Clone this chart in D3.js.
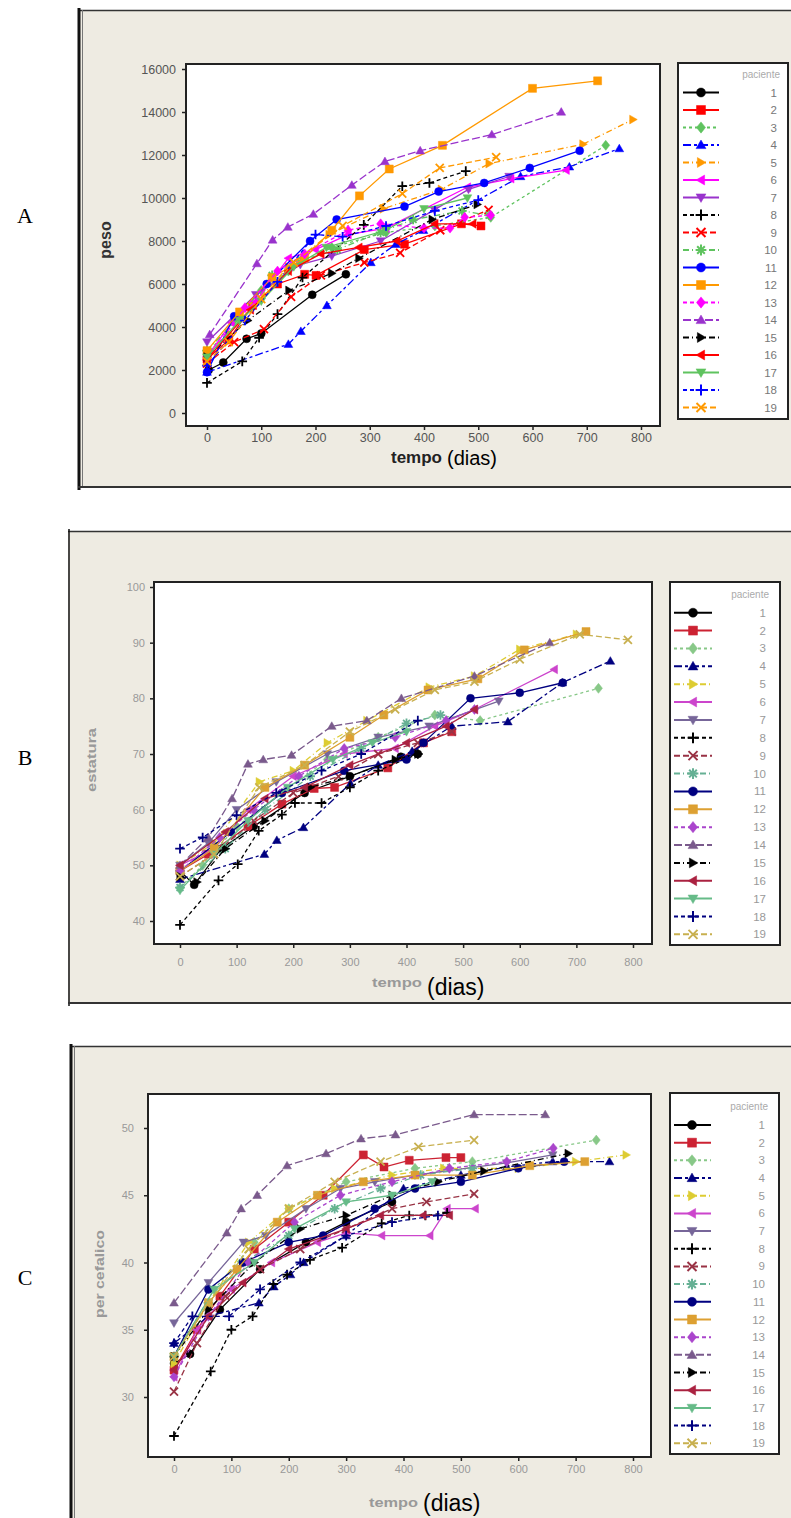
<!DOCTYPE html>
<html lang="pt">
<head>
<meta charset="UTF-8">
<title>Curvas de crescimento por paciente</title>
<script src="https://cdn.jsdelivr.net/npm/d3@7"></script>
<style>
  body { margin: 0; background: #fff; }
  svg { display: block; font-family: "Liberation Sans", Arial, sans-serif; }
</style>
</head>
<body>
<svg id="chart" width="791" height="1518"></svg>
<script>
// --- data -----------------------------------------------------------------
const patients = d3.range(1, 20).map(String);
const dayTicks = [0, 100, 200, 300, 400, 500, 600, 700, 800];
const pesoTicks = [0, 2000, 4000, 6000, 8000, 10000, 12000, 14000, 16000];
const estaturaTicks = [40, 50, 60, 70, 80, 90, 100];
const perimetroTicks = [30, 35, 40, 45, 50];

// peso (g): [dia, valor] per paciente 1..19
const peso = [
  [[3,2000],[30,2350],[73,3450],[100,3700],[194,5500],[256,6450]],
  [[0,2500],[40,3400],[84,5000],[130,6000],[180,6450],[201,6400],[290,7600],[364,7850],[469,8800],[505,8700]],
  [[0,2700],[50,4300],[100,5700],[150,6600],[230,7700],[330,8400],[420,8700],[523,9100],[735,12450]],
  [[0,1900],[150,3200],[173,3800],[221,5000],[302,7000],[348,7850],[399,8500],[578,11000],[668,11450],[760,12300]],
  [[0,2800],[40,3700],[85,5000],[150,6800],[225,8300],[325,9500],[432,10400],[520,11600],[693,12500],[785,13650]],
  [[0,2600],[45,4200],[90,5200],[150,7200],[200,7600],[260,8300],[330,8600],[480,10500],[560,10900],[662,11300]],
  [[0,3300],[90,5500],[172,6900],[230,7300],[320,8000],[419,9450],[482,10400],[557,11000]],
  [[0,1400],[65,2400],[96,3500],[130,4600],[176,6300],[289,8750],[360,10550],[410,10700],[477,11250]],
  [[0,2300],[50,3300],[105,3900],[155,5400],[210,6400],[290,7000],[356,7450],[430,8500],[519,9450]],
  [[0,2900],[60,4500],[120,6400],[175,7100],[240,7600],[320,8400],[380,9000],[470,9400],[520,9200]],
  [[0,1900],[50,4500],[110,6000],[190,8000],[239,9000],[364,9600],[427,10300],[511,10700],[595,11400],[687,12200]],
  [[0,2900],[60,4700],[120,6300],[180,7200],[230,8500],[281,10100],[336,11350],[434,12450],[600,15100],[720,15450]],
  [[0,2500],[70,4900],[130,6600],[180,7400],[260,8500],[320,8800],[400,8600],[448,8600],[475,9100],[523,9200]],
  [[5,3650],[92,6950],[121,8050],[149,8650],[196,9250],[267,10600],[328,11700],[393,12200],[525,12950],[653,14000]],
  [[0,2600],[75,4300],[151,5700],[230,6500],[280,7200],[415,9000],[498,9700]],
  [[0,2500],[80,4800],[150,6600],[210,7400],[280,7700],[350,8000],[420,8800],[490,8800]],
  [[0,2600],[60,4300],[100,5200],[160,6800],[220,7700],[330,8500],[400,9500],[480,10000]],
  [[0,2200],[70,4300],[130,6100],[200,8300],[250,8200],[330,8700],[420,9400],[500,9900]],
  [[0,2400],[40,3300],[100,5300],[160,7000],[250,8700],[360,10200],[429,11400],[533,11900]]
];

// estatura (cm)
const estatura = [
  [[0,49],[25,46.5],[73,53],[130,57],[220,63],[300,66],[390,69.5],[420,70]],
  [[0,49],[50,52],[120,57],[180,61],[237,63.8],[273,64],[367,67.5],[430,72],[480,74]],
  [[0,46],[40,50],[100,57],[180,63],[260,69],[350,73],[450,77],[530,76],[739,81.8]],
  [[0,47.5],[149,52],[171,54.5],[218,56.8],[301,64.7],[350,68],[410,70.5],[480,75],[579,75.8],[675,82.8],[760,86.7]],
  [[0,50],[60,54],[140,65],[200,67],[260,72],[330,76],[440,82],[520,84],[600,88.8],[700,91.5]],
  [[0,50],[60,53],[120,60],[200,66],[290,70],[380,71],[450,75],[520,78],[661,85.2]],
  [[0,50],[50,54],[100,60],[170,65],[260,70],[350,73],[440,75],[563,79.5]],
  [[0,39.3],[68,47.3],[102,50.2],[139,56.2],[180,59.1],[203,61.2],[250,61.2],[300,64],[350,67],[420,70]],
  [[0,48],[60,52],[130,58],[200,63],[280,66],[350,70],[420,72],[480,74]],
  [[0,46],[80,53],[150,60],[230,66],[320,71],[400,75.5],[460,77]],
  [[0,49],[90,56],[180,63],[290,67],[400,69],[430,72],[513,80],[600,81],[676,82.8]],
  [[0,49],[60,53],[150,64],[220,68],[300,73],[360,77],[438,81.5],[526,83.5],[608,88.7],[717,92]],
  [[0,49],[70,55],[130,60],[210,66],[290,71],[380,73],[470,76],[520,78]],
  [[0,50],[50,55],[92,62],[120,68.2],[147,69],[197,69.8],[268,75],[330,76],[391,80],[520,84],[653,90]],
  [[0,48],[30,47],[80,53],[150,58],[230,64],[300,66],[380,69],[420,70]],
  [[0,50],[80,56],[150,62],[220,64],[300,68],[400,72],[470,75],[520,78]],
  [[0,45.5],[60,52],[120,58],[190,64],[270,69],[340,72],[400,74]],
  [[0,53],[40,55],[100,59],[170,63],[250,67],[320,70],[420,76]],
  [[0,48],[60,52],[140,64],[220,68],[300,74],[380,78],[450,81.5],[520,83],[600,87],[706,91.5],[791,90.5]]
];

// perimetro cefalico (cm)
const perimetro = [
  [[0,32.5],[28,33.2],[80,36.5],[150,39.5],[230,41.5],[300,43],[380,44.5]],
  [[0,32],[40,35],[80,37.5],[140,41],[200,43],[260,45],[330,48],[366,47.1],[410,47.6],[474,47.8],[500,47.8]],
  [[0,33],[70,38],[140,41.5],[200,44],[300,46],[420,47],[520,47.5],[736,49.1]],
  [[0,34],[60,36],[148,37],[174,38.2],[203,39.1],[226,40],[300,42],[400,45.5],[500,46.5],[580,47.1],[660,47.5],[759,47.5]],
  [[0,32.5],[60,37],[130,41.5],[200,44],[280,45.5],[380,46.5],[470,47],[600,47],[700,47.5],[788,48]],
  [[0,31.5],[40,35],[100,38],[170,40],[250,41.5],[300,42.2],[362,42],[446,42],[476,44],[525,44]],
  [[0,35.5],[60,38.5],[121,41.5],[160,42],[230,44],[290,45.5],[350,46],[420,46.5],[580,47.4],[660,48]],
  [[0,27.1],[64,31.9],[100,35],[137,36],[173,38.4],[197,39.1],[237,40.2],[293,41.1],[362,42.9],[410,43.5],[438,43.5],[476,43.7]],
  [[0,30.4],[40,34],[90,37.5],[150,39.5],[220,41],[300,42.5],[380,44],[440,44.5],[523,45.1]],
  [[0,33],[60,37],[120,40],[200,42],[280,44],[360,45.5],[430,46.5],[520,47]],
  [[0,33],[60,38],[120,40],[200,41.5],[260,42],[350,44],[420,45.5],[500,46],[600,47],[680,47.5]],
  [[0,33],[60,37],[110,39.5],[180,43],[250,45],[330,46],[420,46.5],[520,46.5],[620,47.2],[716,47.5]],
  [[0,31.5],[60,36],[130,40],[210,43],[290,45],[380,46],[480,47],[580,47.5],[661,48.5]],
  [[0,37],[92,42.2],[117,44],[145,45],[197,47.2],[265,48.1],[326,49.2],[386,49.5],[523,51],[647,51]],
  [[0,33],[60,36.5],[140,40],[220,42.5],[300,43.5],[380,45],[460,46],[540,46.8],[687,48.1]],
  [[0,32],[60,36],[120,38.5],[200,41],[300,42.5],[360,43.5],[434,43.5],[480,43.5]],
  [[0,33],[70,38],[140,40],[210,42.5],[300,44.5],[380,45],[450,46]],
  [[0,34],[32,36],[96,36],[150,38],[220,40],[300,42],[380,43],[460,43.5]],
  [[0,33],[60,37],[130,41],[200,44],[280,46],[360,47.5],[426,48.6],[523,49.1]]
];

// --- styles ---------------------------------------------------------------
const paletteA = ['#000000','#ff0000','#5fc35f','#0000ff','#ff9900','#ff00ff','#9933cc',
  '#000000','#ff0000','#5fc35f','#0000ff','#ff9900','#ff00ff','#9933cc',
  '#000000','#ff0000','#5fc35f','#0000ff','#ff9900'];
const paletteBC = ['#000000','#cc2233','#88c888','#000080','#ddcc33','#cc44cc','#776699',
  '#000000','#993344','#66b094','#000080','#dda030','#aa44cc','#7a5a8c',
  '#000000','#aa2040','#66bb88','#000080','#c8b050'];
const shapes = ['circle','square','diamond','up','right','left','down','plus','x','star',
  'circle','square','diamond','up','right','left','down','plus','x'];
const dashes = [null,null,'3,3','8,3,3,3','6,3,1,3',null,null,'4,3','6,3','6,3,1,3',
  null,null,'4,3','8,3','6,3,1,3',null,null,'4,3','6,3'];

function markerPath(shape, s) {
  switch (shape) {
    case 'circle': return `M${-s},0A${s},${s} 0 1,0 ${s},0A${s},${s} 0 1,0 ${-s},0Z`;
    case 'square': return `M${-s},${-s}H${s}V${s}H${-s}Z`;
    case 'diamond': return `M0,${-s*1.25}L${s},0L0,${s*1.25}L${-s},0Z`;
    case 'up': return `M0,${-s*1.1}L${s*1.1},${s*0.8}L${-s*1.1},${s*0.8}Z`;
    case 'down': return `M0,${s*1.1}L${s*1.1},${-s*0.8}L${-s*1.1},${-s*0.8}Z`;
    case 'right': return `M${s*1.1},0L${-s*0.8},${-s*1.1}L${-s*0.8},${s*1.1}Z`;
    case 'left': return `M${-s*1.1},0L${s*0.8},${-s*1.1}L${s*0.8},${s*1.1}Z`;
    case 'plus': return `M${-s*1.2},0H${s*1.2}M0,${-s*1.2}V${s*1.2}`;
    case 'x': return `M${-s},${-s}L${s},${s}M${-s},${s}L${s},${-s}`;
    default: return `M${-s*1.2},0H${s*1.2}M0,${-s*1.2}V${s*1.2}M${-s*0.85},${-s*0.85}L${s*0.85},${s*0.85}M${-s*0.85},${s*0.85}L${s*0.85},${-s*0.85}`;
  }
}
const isStroked = sh => sh === 'plus' || sh === 'x' || sh === 'star';

const panels = [
  { letter: 'A', letterY: 223, data: peso, yTicks: pesoTicks, yDomain: [0, 16000], yRange: [413, 69],
    xRange: [207, 641], colors: paletteA, blur: false,
    frame: { x: 78, y: 10, w: 730, h: 478, thickLeft: true, bottom: true },
    plot: { x: 186, y: 64, w: 474, h: 362 },
    tickFont: 12.5, tickFill: '#555', yPad: 6, xBase: 442,
    yTitle: 'peso', yTitleX: 111, yTitleY: 240, yTitleSize: 16, yTitleFill: '#333', yTitleLen: null,
    xTitleX: 391, xTitleY: 463, tempoSize: 17, tempoFill: '#222', tempoLen: null, diasSize: 20, diasY: 465,
    legend: { x: 678, y: 63, w: 110, h: 356, titleY: 78, first: 92.5, step: 17.5, lx0: 683, lx1: 719, mx: 701, tx: 777 } },
  { letter: 'B', letterY: 765, data: estatura, yTicks: estaturaTicks, yDomain: [40, 100], yRange: [921, 587],
    xRange: [180, 633], colors: paletteBC, blur: true,
    frame: { x: 68, y: 531, w: 740, h: 473, thickLeft: false, bottom: true },
    plot: { x: 154, y: 582, w: 498, h: 362 },
    tickFont: 11, tickFill: '#999', yPad: 5, xBase: 966,
    yTitle: 'estatura', yTitleX: 96, yTitleY: 760, yTitleSize: 12, yTitleFill: '#999', yTitleLen: 64,
    xTitleX: 372, xTitleY: 987, tempoSize: 12, tempoFill: '#999', tempoLen: 50, diasSize: 23, diasY: 995,
    legend: { x: 670, y: 582, w: 110, h: 363, titleY: 598, first: 612.7, step: 17.87, lx0: 674, lx1: 712, mx: 693, tx: 766 } },
  { letter: 'C', letterY: 1285, data: perimetro, yTicks: perimetroTicks, yDomain: [30, 50], yRange: [1397, 1128],
    xRange: [174, 633], colors: paletteBC, blur: true,
    frame: { x: 70, y: 1046, w: 740, h: 480, thickLeft: true, bottom: false },
    plot: { x: 148, y: 1094, w: 503, h: 363 },
    tickFont: 11, tickFill: '#999', yPad: 10, xBase: 1473,
    yTitle: 'per cefalico', yTitleX: 104, yTitleY: 1274, yTitleSize: 12, yTitleFill: '#999', yTitleLen: 88,
    xTitleX: 369, xTitleY: 1507, tempoSize: 12, tempoFill: '#999', tempoLen: 49, diasSize: 23, diasY: 1511,
    legend: { x: 670, y: 1093, w: 109, h: 361, titleY: 1110, first: 1125, step: 17.68, lx0: 674, lx1: 711, mx: 692, tx: 765 } }
];

// --- drawing --------------------------------------------------------------
const svg = d3.select('#chart');
svg.append('rect').attr('width', 791).attr('height', 1518).attr('fill', '#fff');
svg.append('defs').append('filter').attr('id', 'soft')
  .attr('x', '-5%').attr('y', '-5%').attr('width', '110%').attr('height', '110%')
  .append('feGaussianBlur').attr('stdDeviation', 0.55);

panels.forEach(drawPanel);

function drawPanel(p) {
  const g = svg.append('g');
  const f = p.frame;

  // panel letter
  svg.append('text').attr('x', 25).attr('y', p.letterY).attr('text-anchor', 'middle')
    .attr('font-family', '"Liberation Serif", "Times New Roman", serif').attr('font-size', 22)
    .attr('fill', '#000').text(p.letter);

  // beige frame
  g.append('rect').attr('x', f.x).attr('y', f.y).attr('width', f.w).attr('height', f.h).attr('fill', '#eeebe2');
  g.append('line').attr('x1', f.x).attr('x2', 791).attr('y1', f.y + 0.5).attr('y2', f.y + 0.5)
    .attr('stroke', '#333').attr('stroke-width', 1.5);
  g.append('line').attr('x1', f.x + 1).attr('x2', f.x + 1).attr('y1', f.y - 2).attr('y2', f.y + f.h + 2)
    .attr('stroke', '#111').attr('stroke-width', f.thickLeft ? 3 : 1.5);
  if (f.thickLeft) {
    g.append('line').attr('x1', f.x + 4.5).attr('x2', f.x + 4.5).attr('y1', f.y).attr('y2', f.y + f.h)
      .attr('stroke', '#777').attr('stroke-width', 1);
  }
  if (f.bottom) {
    g.append('line').attr('x1', f.x).attr('x2', 791).attr('y1', f.y + f.h - 1).attr('y2', f.y + f.h - 1)
      .attr('stroke', '#333').attr('stroke-width', 2);
  }

  // plot area
  g.append('rect').attr('x', p.plot.x).attr('y', p.plot.y).attr('width', p.plot.w).attr('height', p.plot.h)
    .attr('fill', '#fff').attr('stroke', '#222').attr('stroke-width', 2);

  const x = d3.scaleLinear().domain([0, 800]).range(p.xRange);
  const y = d3.scaleLinear().domain(p.yDomain).range(p.yRange);
  const bottom = p.plot.y + p.plot.h;

  const xAxis = g.append('g').attr('transform', `translate(0,${bottom})`)
    .call(d3.axisBottom(x).tickValues(dayTicks).tickSize(4).tickFormat(d3.format('d')));
  xAxis.select('.domain').remove();
  xAxis.selectAll('line').attr('stroke', '#222').attr('stroke-width', 1.5);
  xAxis.selectAll('text').attr('y', p.xBase - bottom).attr('dy', null)
    .attr('font-size', p.tickFont).attr('fill', p.tickFill).attr('font-family', null);

  const yAxis = g.append('g').attr('transform', `translate(${p.plot.x},0)`)
    .call(d3.axisLeft(y).tickValues(p.yTicks).tickSize(4).tickPadding(p.yPad).tickFormat(d3.format('d')));
  yAxis.select('.domain').remove();
  yAxis.selectAll('line').attr('stroke', '#222').attr('stroke-width', 1.5);
  yAxis.selectAll('text').attr('font-size', p.tickFont).attr('fill', p.tickFill).attr('font-family', null);

  // axis titles
  const yt = g.append('text')
    .attr('transform', `translate(${p.yTitleX},${p.yTitleY}) rotate(-90)`)
    .attr('text-anchor', 'middle').attr('font-weight', 'bold')
    .attr('font-size', p.yTitleSize).attr('fill', p.yTitleFill).text(p.yTitle);
  if (p.yTitleLen) yt.attr('textLength', p.yTitleLen).attr('lengthAdjust', 'spacingAndGlyphs');

  const tt = g.append('text').attr('x', p.xTitleX).attr('y', p.xTitleY).attr('font-weight', 'bold')
    .attr('font-size', p.tempoSize).attr('fill', p.tempoFill).text('tempo');
  if (p.tempoLen) tt.attr('textLength', p.tempoLen).attr('lengthAdjust', 'spacingAndGlyphs');
  const tempoW = p.tempoLen || tt.node().getComputedTextLength();
  g.append('text').attr('x', p.xTitleX + tempoW + 5).attr('y', p.diasY)
    .attr('font-size', p.diasSize).attr('fill', '#000').text('(dias)');

  // series
  const sg = g.append('g');
  if (p.blur) sg.attr('filter', 'url(#soft)');
  const line = d3.line().x(d => x(d[0])).y(d => y(d[1]));

  p.data.forEach((series, i) => {
    const c = p.colors[i];
    sg.append('path').datum(series).attr('d', line).attr('fill', 'none')
      .attr('stroke', c).attr('stroke-width', 1.3).attr('stroke-dasharray', dashes[i]);
    sg.selectAll(null).data(series).join('path')
      .attr('transform', d => `translate(${x(d[0])},${y(d[1])})`)
      .attr('d', markerPath(shapes[i], 4))
      .attr('fill', isStroked(shapes[i]) ? 'none' : c)
      .attr('stroke', c).attr('stroke-width', isStroked(shapes[i]) ? 1.8 : 0.5);
  });

  // legend
  const L = p.legend;
  const lg = g.append('g');
  lg.append('rect').attr('x', L.x).attr('y', L.y).attr('width', L.w).attr('height', L.h)
    .attr('fill', '#fff').attr('stroke', '#222').attr('stroke-width', 2);
  lg.append('text').attr('x', L.tx + 3).attr('y', L.titleY).attr('text-anchor', 'end')
    .attr('font-size', 10).attr('fill', '#aaa').text('paciente');

  const items = lg.append('g');
  if (p.blur) items.attr('filter', 'url(#soft)');
  patients.forEach((name, i) => {
    const yy = L.first + i * L.step;
    const c = p.colors[i];
    items.append('line').attr('x1', L.lx0).attr('x2', L.lx1).attr('y1', yy).attr('y2', yy)
      .attr('stroke', c).attr('stroke-width', 2).attr('stroke-dasharray', dashes[i]);
    items.append('path').attr('transform', `translate(${L.mx},${yy})`)
      .attr('d', markerPath(shapes[i], 4.5))
      .attr('fill', isStroked(shapes[i]) ? 'none' : c)
      .attr('stroke', c).attr('stroke-width', isStroked(shapes[i]) ? 2 : 0.5);
    lg.append('text').attr('x', L.tx).attr('y', yy).attr('dy', '0.35em').attr('text-anchor', 'end')
      .attr('font-size', 11.5).attr('fill', p.blur ? '#999' : '#777').text(name);
  });
}
</script>
</body>
</html>
